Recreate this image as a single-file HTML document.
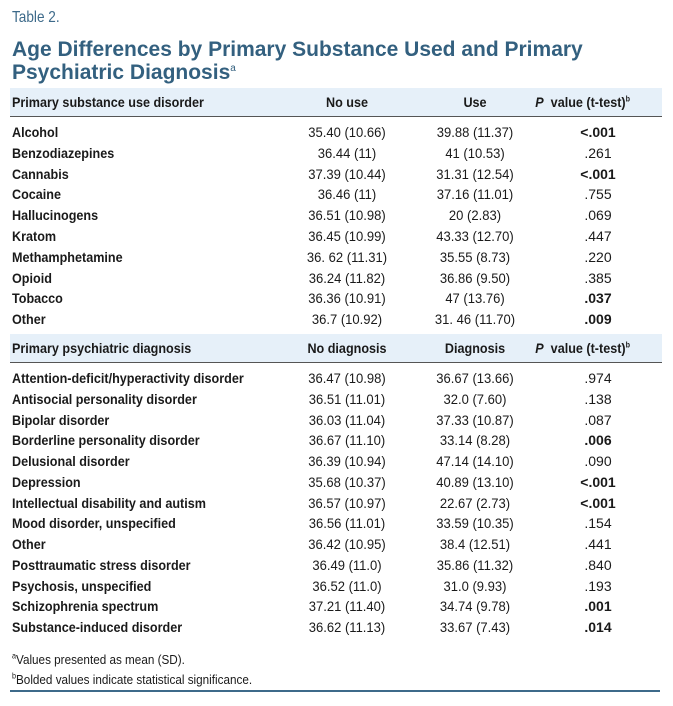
<!DOCTYPE html>
<html><head><meta charset="utf-8">
<style>
body{margin:0;width:673px;height:706px;background:#fff;position:relative;overflow:hidden;font-family:"Liberation Sans Narrow","Liberation Sans",sans-serif;color:#1a1a1a}
.a{position:absolute;white-space:nowrap}
.t{font-size:14px;line-height:16px}
.b{font-weight:bold}
.n{transform:scaleX(0.9);transform-origin:left center}
.c{text-align:center;width:130px}
.band{position:absolute;left:10px;width:652px;height:28px;background:#e6f0f9;border-bottom:1.5px solid #555}
sup{font-size:8px;line-height:0}
</style></head><body>
<div class="a" style="left:12px;top:9px;font-size:16px;color:#3d6a8a;transform:scaleX(0.85);transform-origin:left center">Table 2.</div>
<div class="a" style="left:12px;top:38px;font-size:21px;line-height:23px;font-weight:bold;color:#33607f;font-family:'Liberation Sans',sans-serif">Age Differences by Primary Substance Used and Primary<br>Psychiatric Diagnosis<sup style="font-size:10px;font-weight:normal">a</sup></div>
<div id="t"></div>
<div class="a t n" style="left:12px;top:652px;font-size:13px"><sup>a</sup>Values presented as mean (SD).</div>
<div class="a t n" style="left:12px;top:672px;font-size:13px"><sup>b</sup>Bolded values indicate statistical significance.</div>
<div class="a" style="left:10px;top:690px;width:650px;height:1.5px;background:#3d6a8a"></div>
<script>
const sec1Header=["Primary substance use disorder","No use","Use"];
const sec1Rows=[
["Alcohol","35.40 (10.66)","39.88 (11.37)","<.001",1],
["Benzodiazepines","36.44 (11)","41 (10.53)",".261",0],
["Cannabis","37.39 (10.44)","31.31 (12.54)","<.001",1],
["Cocaine","36.46 (11)","37.16 (11.01)",".755",0],
["Hallucinogens","36.51 (10.98)","20 (2.83)",".069",0],
["Kratom","36.45 (10.99)","43.33 (12.70)",".447",0],
["Methamphetamine","36. 62 (11.31)","35.55 (8.73)",".220",0],
["Opioid","36.24 (11.82)","36.86 (9.50)",".385",0],
["Tobacco","36.36 (10.91)","47 (13.76)",".037",1],
["Other","36.7 (10.92)","31. 46 (11.70)",".009",1]];
const sec2Header=["Primary psychiatric diagnosis","No diagnosis","Diagnosis"];
const sec2Rows=[
["Attention-deficit/hyperactivity disorder","36.47 (10.98)","36.67 (13.66)",".974",0],
["Antisocial personality disorder","36.51 (11.01)","32.0 (7.60)",".138",0],
["Bipolar disorder","36.03 (11.04)","37.33 (10.87)",".087",0],
["Borderline personality disorder","36.67 (11.10)","33.14 (8.28)",".006",1],
["Delusional disorder","36.39 (10.94)","47.14 (14.10)",".090",0],
["Depression","35.68 (10.37)","40.89 (13.10)","<.001",1],
["Intellectual disability and autism","36.57 (10.97)","22.67 (2.73)","<.001",1],
["Mood disorder, unspecified","36.56 (11.01)","33.59 (10.35)",".154",0],
["Other","36.42 (10.95)","38.4 (12.51)",".441",0],
["Posttraumatic stress disorder","36.49 (11.0)","35.86 (11.32)",".840",0],
["Psychosis, unspecified","36.52 (11.0)","31.0 (9.93)",".193",0],
["Schizophrenia spectrum","37.21 (11.40)","34.74 (9.78)",".001",1],
["Substance-induced disorder","36.62 (11.13)","33.67 (7.43)",".014",1]];
const T=document.getElementById('t');
function txt(s,x,y,cls,w){const d=document.createElement('div');d.className='a t '+cls;d.style.left=x+'px';d.style.top=y+'px';if(w)d.style.width=w+'px';d.innerHTML=s;T.appendChild(d);return d;}
function section(h,rows,hy,ry,step){
 const band=document.createElement('div');band.className='band';band.style.top=hy+'px';
 
 
 T.appendChild(band);
 let e=txt(h[0],12,hy+6,'b n');
 
 
 e=txt(h[1],282,hy+6,'b c');e.style.transform='scaleX(0.9)';
 
 
 e=txt(h[2],410,hy+6,'b c');e.style.transform='scaleX(0.9)';
 
 
 e=txt('<i>P</i>&nbsp; value (t-test)<sup>b</sup>',488,hy+6,'b',142);e.style.textAlign='right';e.style.width='142px';e.style.transform='scaleX(0.9)';e.style.transformOrigin='right center';
 
 
 rows.forEach((r,i)=>{const y=ry+i*step;
  e=txt(r[0],12,y,'b n');
  
  
  e=txt(r[1],282,y,'c');e.style.transform='scaleX(0.93)';
  
  
  e=txt(r[2],410,y,'c');e.style.transform='scaleX(0.93)';
  
  
  e=txt(r[3].replace('<','&lt;'),548,y,'c'+(r[4]?' b':''),100);e.style.width='100px';
  
  
 });
}
section(sec1Header,sec1Rows,88,124,20.8);
section(sec2Header,sec2Rows,334,370,20.75);
</script>
</body></html>
